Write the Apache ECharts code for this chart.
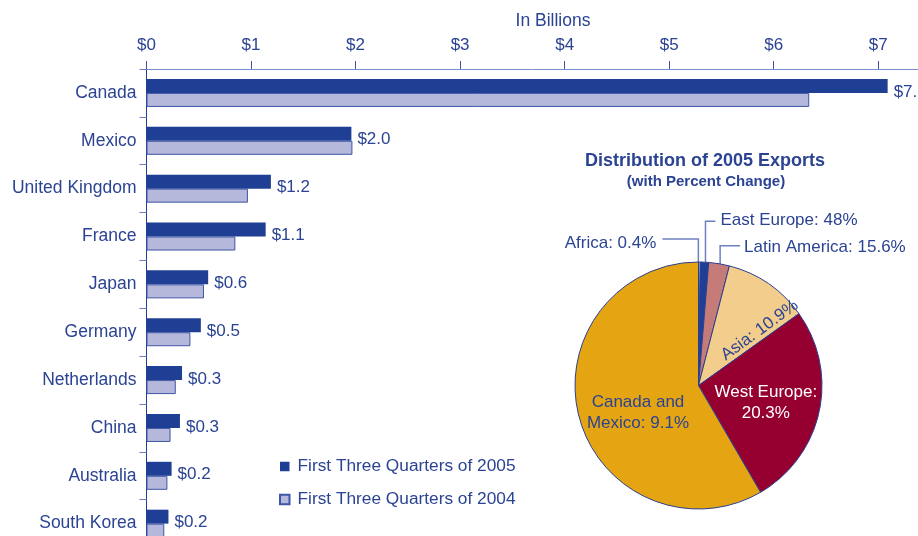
<!DOCTYPE html>
<html>
<head>
<meta charset="utf-8">
<script src="https://cdn.jsdelivr.net/npm/echarts@6/dist/echarts.min.js"></script>
<style>
  html, body { margin: 0; padding: 0; background: #ffffff; }
  #chart { width: 918px; height: 536px; }
</style>
</head>
<body>
<div id="chart"></div>
<script>
// Export destinations, in billions of dollars
const countries = ['Canada', 'Mexico', 'United Kingdom', 'France', 'Japan', 'Germany',
                   'Netherlands', 'China', 'Australia', 'South Korea'];
const exports2005 = [7.09, 1.96, 1.19, 1.14, 0.59, 0.52, 0.34, 0.32, 0.24, 0.21];
const exports2004 = [6.34, 1.97, 0.97, 0.85, 0.55, 0.42, 0.28, 0.23, 0.20, 0.17];
const seriesNames = ['First Three Quarters of 2005', 'First Three Quarters of 2004'];
const axisTicks = [0, 1, 2, 3, 4, 5, 6, 7];

// 2005 distribution by region (share of total) with percent change labels
const regions = ['Africa', 'East Europe', 'Latin America', 'Asia', 'West Europe', 'Canada and Mexico'];
const regionShare = [0.22, 1.1, 2.7, 11.1, 26.5, 58.38];
const regionChange = ['0.4%', '48%', '15.6%', '10.9%', '20.3%', '9.1%'];
const regionLabels = ['Africa: 0.4%', 'East Europe: 48%', 'Latin America: 15.6%', 'Asia: 10.9%',
                      'West Europe:\n20.3%', 'Canada and\nMexico: 9.1%'];

const NAVY = '#1f3f94';
const TEXT = '#2b4393';
const LAVENDER = '#b5b8da';
const FONT = '"Liberation Sans", Arial, Helvetica, sans-serif';

const sliceColors = ['#eef0f8', '#1f3f94', '#c57b78', '#f2cd8c', '#950030', '#e5a513'];
const slicePlacement = ['outside', 'outside', 'outside', 'inside', 'inside', 'inside'];

const pieData = regions.map((name, i) => {
  const item = {
    name: name,
    value: regionShare[i],
    itemStyle: { color: sliceColors[i] },
    label: { position: slicePlacement[i] },
    labelLine: { show: slicePlacement[i] === 'outside' }
  };
  if (name === 'Asia') item.label.rotate = 36;
  if (name === 'West Europe') item.label.color = '#ffffff';
  return item;
});

// Elbow-shaped leader lines for the small top slices
function pieLabelLayout(params) {
  const name = regions[params.dataIndex];
  const pts = params.labelLinePoints;
  if (slicePlacement[params.dataIndex] === 'outside' && pts && pts.length) {
    const p0 = pts[0];
    if (name === 'Africa') {
      const yy = p0[1] - 23;
      return {
        x: p0[0] - 43, y: yy + 4, align: 'right', verticalAlign: 'middle',
        labelLinePoints: [[p0[0] - 1, p0[1] + 1], [p0[0] - 1, yy], [p0[0] - 37, yy]]
      };
    }
    if (name === 'East Europe') {
      const yy = p0[1] - 41;
      return {
        x: p0[0] + 16, y: yy - 1, align: 'left', verticalAlign: 'middle',
        labelLinePoints: [[p0[0] + 1, p0[1]], [p0[0] + 1, yy], [p0[0] + 11, yy]]
      };
    }
    if (name === 'Latin America') {
      const yy = p0[1] - 18;
      return {
        x: p0[0] + 25, y: yy + 2, align: 'left', verticalAlign: 'middle',
        labelLinePoints: [[p0[0] + 1, p0[1] + 8], [p0[0] + 1, yy], [p0[0] + 21, yy]]
      };
    }
  }
  if (name === 'Asia') return { dx: 21, dy: 13 };
  if (name === 'West Europe') return { dx: 4, dy: 4 };
  if (name === 'Canada and Mexico') return { dx: 2, dy: 10 };
  return {};
}

const chart = echarts.init(document.getElementById('chart'), null, { renderer: 'canvas' });

chart.setOption({
  backgroundColor: '#ffffff',
  animation: false,
  textStyle: { fontFamily: FONT, color: TEXT },
  title: [
    {
      text: 'In Billions',
      left: 553, top: 12, textAlign: 'center', padding: 0,
      textStyle: { fontFamily: FONT, fontSize: 17.5, fontWeight: 'normal', color: TEXT }
    },
    {
      text: 'Distribution of 2005 Exports',
      left: 705, top: 152, textAlign: 'center', padding: 0,
      textStyle: { fontFamily: FONT, fontSize: 18, fontWeight: 'bold', color: TEXT }
    },
    {
      text: '(with Percent Change)',
      left: 706, top: 174, textAlign: 'center', padding: 0,
      textStyle: { fontFamily: FONT, fontSize: 15, fontWeight: 'bold', color: TEXT }
    }
  ],
  legend: {
    data: seriesNames,
    orient: 'vertical',
    left: 279, top: 458,
    padding: 0,
    itemWidth: 9.5, itemHeight: 9.5,
    itemGap: 16,
    icon: 'rect',
    textStyle: { fontFamily: FONT, fontSize: 17.3, color: TEXT, padding: [0, 0, 0, 3] }
  },
  grid: {
    left: 146.5, top: 69, width: 784, height: 478.6,
    containLabel: false, outerBoundsMode: 'none'
  },
  xAxis: {
    type: 'value',
    position: 'top',
    min: 0, max: 7.5, interval: 1,
    axisLine: { show: true, lineStyle: { color: '#7d8cc6', width: 1 } },
    axisTick: { show: true, length: 8, lineStyle: { color: '#3c52a2' } },
    axisLabel: {
      margin: 15, fontSize: 17, color: TEXT, fontFamily: FONT,
      formatter: v => axisTicks.indexOf(v) >= 0 ? '$' + v : ''
    },
    splitLine: { show: false }
  },
  yAxis: {
    type: 'category',
    data: countries,
    inverse: true,
    axisLine: { show: true, lineStyle: { color: NAVY, width: 1 } },
    axisTick: { show: true, length: 7, lineStyle: { color: '#6b7cc0' } },
    axisLabel: { margin: 10, fontSize: 17.5, color: TEXT, fontFamily: FONT }
  },
  series: [
    {
      name: seriesNames[0],
      type: 'bar',
      data: exports2005,
      barWidth: 14,
      barGap: '0%',
      itemStyle: { color: NAVY },
      label: {
        show: true, position: 'right', distance: 6, offset: [0, 6],
        fontSize: 17, color: TEXT, fontFamily: FONT,
        formatter: p => '$' + p.value.toFixed(1)
      },
      z: 3
    },
    {
      name: seriesNames[1],
      type: 'bar',
      data: exports2004,
      barWidth: 14,
      itemStyle: { color: LAVENDER, borderColor: '#3f55a6', borderWidth: 1 },
      z: 2
    },
    {
      name: 'Distribution of 2005 Exports',
      type: 'pie',
      center: [698.5, 385.5],
      radius: [0, 123.5],
      startAngle: 90,
      clockwise: true,
      avoidLabelOverlap: false,
      data: pieData,
      itemStyle: { borderColor: '#2b3f90', borderWidth: 1 },
      label: {
        show: true,
        fontFamily: FONT, fontSize: 17, color: TEXT, lineHeight: 21,
        formatter: p => regionLabels[p.dataIndex]
      },
      labelLine: {
        show: true, length: 20, length2: 20,
        lineStyle: { color: '#6f80c0', width: 1.5 }
      },
      labelLayout: pieLabelLayout,
      emphasis: { disabled: true }
    }
  ]
});
</script>
</body>
</html>
